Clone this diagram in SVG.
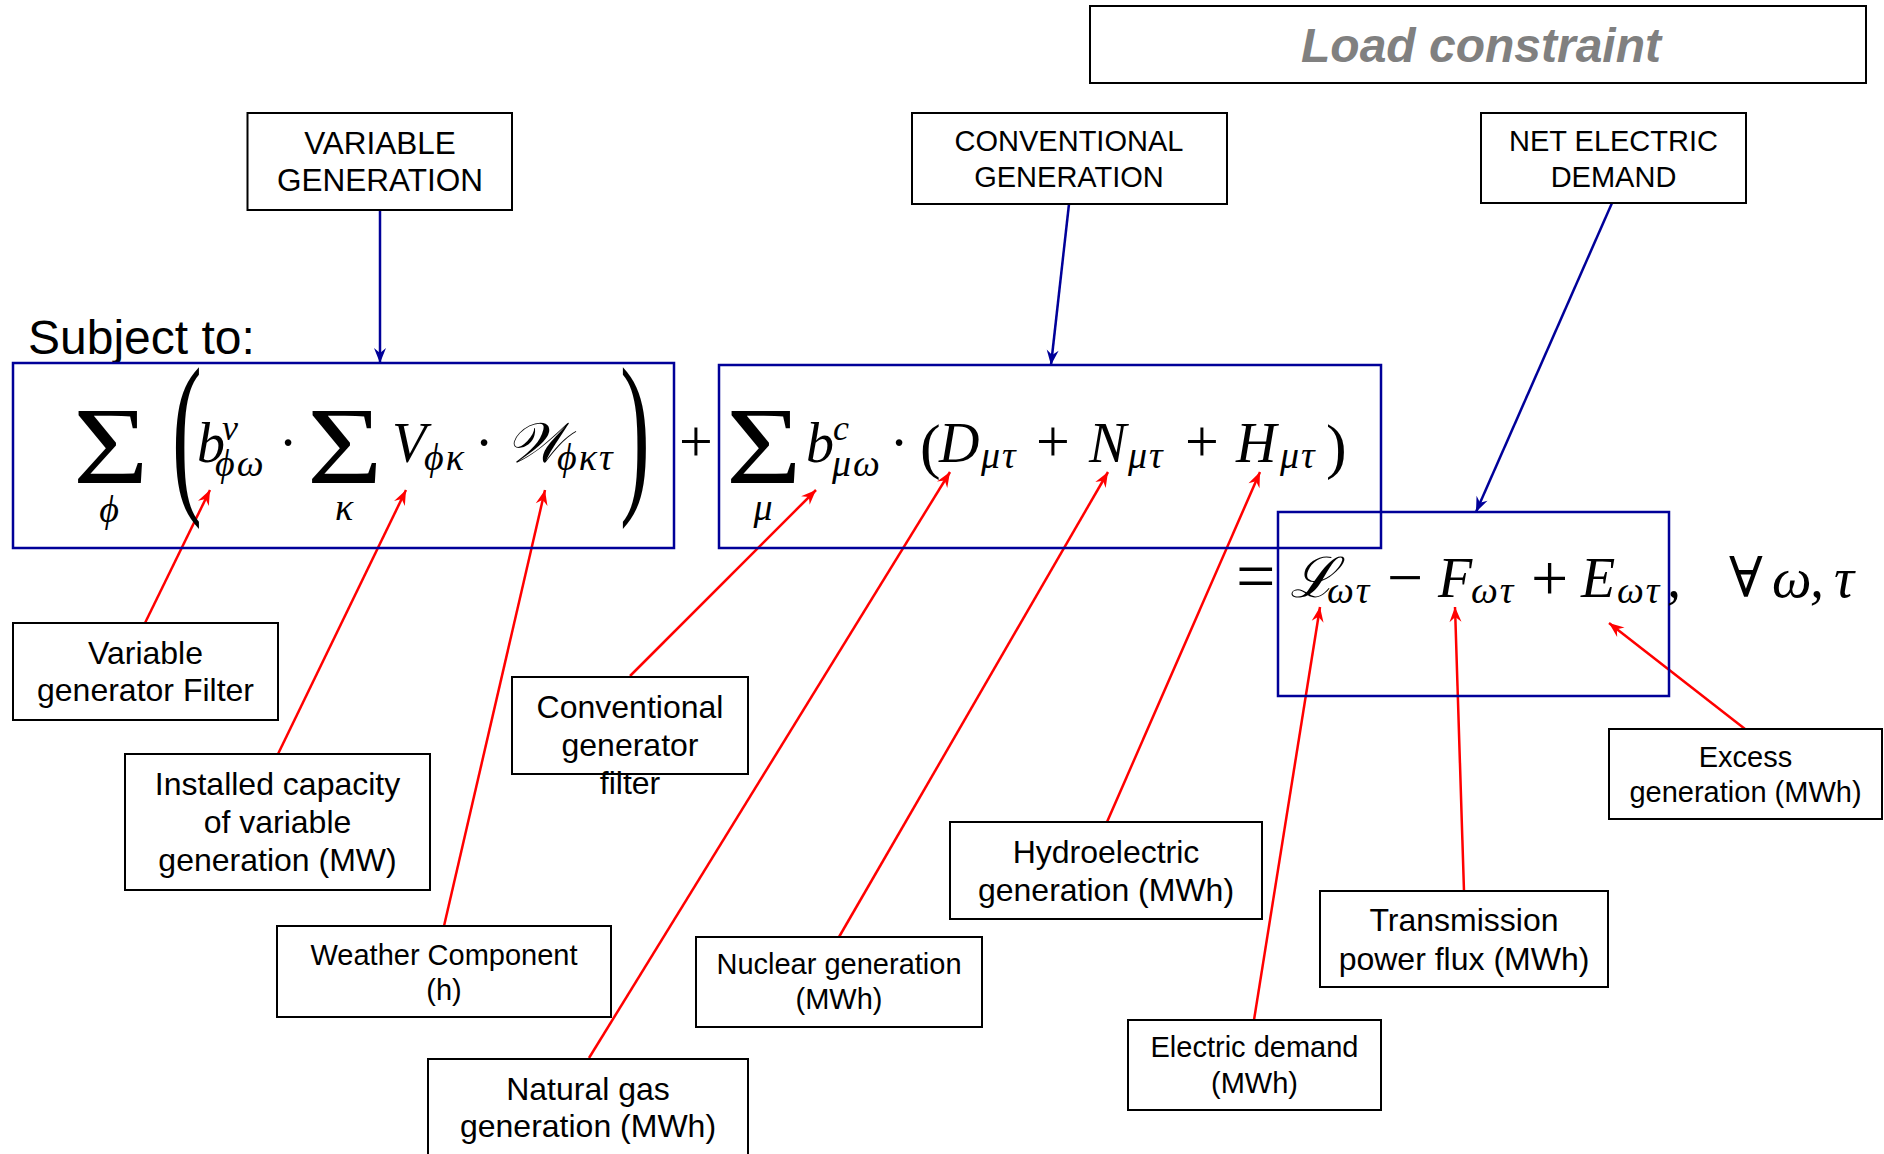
<svg xmlns="http://www.w3.org/2000/svg" width="1884" height="1154" viewBox="0 0 1884 1154">
<defs>
<style>
.lbl{fill:none;stroke:#000;stroke-width:2}
.bb{fill:none;stroke:#000099;stroke-width:2.5}
.t{font-family:"Liberation Sans",Arial,sans-serif;fill:#000;text-anchor:middle}
.m{font-family:"Liberation Serif","DejaVu Serif",serif;font-style:italic;font-size:56px;fill:#000}
.r{font-family:"Liberation Serif","DejaVu Serif",serif;font-style:normal;font-size:56px;fill:#000}
.s{font-family:"Liberation Serif","DejaVu Serif",serif;font-style:italic;font-size:38px;letter-spacing:2px;fill:#000}
.sum{font-family:"Liberation Serif","DejaVu Serif",serif;font-size:110px;fill:#000}
.red{stroke:#ff0000;stroke-width:2.5;fill:none;marker-end:url(#ar)}
.blue{stroke:#000099;stroke-width:2.5;fill:none;marker-end:url(#ab)}
</style>
<marker id="ar" viewBox="-16 -8 18 16" refX="0" refY="0" markerWidth="18" markerHeight="16" markerUnits="userSpaceOnUse" orient="auto"><path d="M0,0 L-15,-6 L-10,0 L-15,6 Z" fill="#ff0000"/></marker>
<marker id="ab" viewBox="-16 -8 18 16" refX="0" refY="0" markerWidth="18" markerHeight="16" markerUnits="userSpaceOnUse" orient="auto"><path d="M0,0 L-15,-6 L-10,0 L-15,6 Z" fill="#000099"/></marker>
</defs>
<rect width="1884" height="1154" fill="#fff"/>

<g id="title">
<rect class="lbl" x="1090" y="6" width="776" height="77"/>
<text x="1481" y="62" style="font-family:'Liberation Sans',Arial,sans-serif;font-weight:bold;font-style:italic;font-size:48px;fill:#808080;text-anchor:middle">Load constraint</text>
</g>
<g id="subject">
<text x="28" y="354" style="font-family:'Liberation Sans',Arial,sans-serif;font-size:48px;fill:#000">Subject to:</text>
</g>

<g id="connectors">
<line class="blue" x1="380" y1="210" x2="380" y2="363"/>
<line class="blue" x1="1069" y1="204" x2="1051" y2="365"/>
<line class="blue" x1="1612" y1="203" x2="1476" y2="512"/>
<line class="red" x1="145" y1="623" x2="210" y2="490"/>
<line class="red" x1="278" y1="754" x2="406" y2="490"/>
<line class="red" x1="444" y1="926" x2="545" y2="490"/>
<line class="red" x1="630" y1="676" x2="816" y2="490"/>
<line class="red" x1="589" y1="1058" x2="950" y2="472"/>
<line class="red" x1="839" y1="937" x2="1108" y2="472"/>
<line class="red" x1="1107" y1="822" x2="1260" y2="472"/>
<line class="red" x1="1254" y1="1020" x2="1320" y2="607"/>
<line class="red" x1="1464" y1="891" x2="1455" y2="607"/>
<line class="red" x1="1745" y1="729" x2="1609" y2="623"/>
</g>

<g id="eq-variable">
<rect class="bb" x="13" y="363" width="661" height="185"/>
<text class="sum" transform="translate(73,483) scale(1.18,1)">Σ</text>
<text class="s" x="110" y="522" text-anchor="middle">ϕ</text>
<text class="r" transform="translate(172,491) scale(0.5,1)" style="font-size:179px">(</text>
<text class="m" x="197" y="462">b</text>
<text class="s" x="222" y="440" style="font-size:36px">v</text>
<text class="s" x="215" y="476">ϕω</text>
<text class="r" x="288" y="462" text-anchor="middle">·</text>
<text class="sum" transform="translate(307,483) scale(1.18,1)">Σ</text>
<text class="s" x="345" y="520" text-anchor="middle">κ</text>
<text class="m" x="392" y="462">V</text>
<text class="s" x="424" y="470">ϕκ</text>
<text class="r" x="484" y="462" text-anchor="middle">·</text>
<text class="m" x="506" y="462">𝒲</text>
<text class="s" x="557" y="470">ϕκτ</text>
<text class="r" transform="translate(620,491) scale(0.5,1)" style="font-size:179px">)</text>
<text class="r" x="679" y="461" style="font-size:60px">+</text>
</g>

<g id="eq-conventional">
<rect class="bb" x="719" y="365" width="662" height="183"/>
<text class="sum" transform="translate(726,483) scale(1.18,1)">Σ</text>
<text class="s" x="764" y="520" text-anchor="middle">μ</text>
<text class="m" x="806" y="462">b</text>
<text class="s" x="833" y="440" style="font-size:36px">c</text>
<text class="s" x="832" y="476">μω</text>
<text class="r" x="899" y="462" text-anchor="middle">·</text>
<text class="r" x="920" y="467" style="font-size:62px">(</text>
<text class="m" x="939" y="462">D</text>
<text class="s" x="981" y="468">μτ</text>
<text class="r" x="1036" y="461" style="font-size:60px">+</text>
<text class="m" x="1089" y="462">N</text>
<text class="s" x="1128" y="468">μτ</text>
<text class="r" x="1185" y="461" style="font-size:60px">+</text>
<text class="m" x="1236" y="462">H</text>
<text class="s" x="1280" y="468">μτ</text>
<text class="r" x="1326" y="467" style="font-size:62px">)</text>
</g>

<g id="eq-demand">
<rect class="bb" x="1278" y="512" width="391" height="184"/>
<text class="r" x="1236" y="600" style="font-size:70px">=</text>
<text class="m" x="1290" y="597">ℒ</text>
<text class="s" x="1327" y="603">ωτ</text>
<text class="r" x="1387" y="599" style="font-size:64px">−</text>
<text class="m" x="1438" y="597">F</text>
<text class="s" x="1471" y="603">ωτ</text>
<text class="r" x="1531" y="600" style="font-size:66px">+</text>
<text class="m" x="1581" y="597">E</text>
<text class="s" x="1617" y="603">ωτ</text>
<text class="m" x="1667" y="597">,</text>
<text class="r" x="1729" y="597">∀</text>
<text class="m" x="1772" y="597">ω</text>
<text class="m" x="1810" y="597">,</text>
<text class="m" x="1834" y="597">τ</text>
</g>

<g id="n-variable-generation">
<rect class="lbl" x="247.5" y="113" width="264.5" height="97"/>
<text class="t" style="font-size:31.5px" x="380" y="154">VARIABLE</text>
<text class="t" style="font-size:31.5px" x="380" y="191">GENERATION</text>
</g>
<g id="n-conventional-generation">
<rect class="lbl" x="912" y="113" width="315" height="91"/>
<text class="t" style="font-size:29px" x="1069" y="151">CONVENTIONAL</text>
<text class="t" style="font-size:29px" x="1069" y="187">GENERATION</text>
</g>
<g id="n-net-demand">
<rect class="lbl" x="1481" y="113" width="265" height="90"/>
<text class="t" style="font-size:29px" x="1613.5" y="151">NET ELECTRIC</text>
<text class="t" style="font-size:29px" x="1613.5" y="187">DEMAND</text>
</g>
<g id="n-var-filter">
<rect class="lbl" x="13" y="623" width="265" height="97"/>
<text class="t" style="font-size:32px" x="145.5" y="664">Variable</text>
<text class="t" style="font-size:32px" x="145.5" y="701">generator Filter</text>
</g>
<g id="n-installed">
<rect class="lbl" x="125" y="754" width="305" height="136"/>
<text class="t" style="font-size:32px" x="277.5" y="795">Installed capacity</text>
<text class="t" style="font-size:32px" x="277.5" y="833">of variable</text>
<text class="t" style="font-size:32px" x="277.5" y="871">generation (MW)</text>
</g>
<g id="n-weather">
<rect class="lbl" x="277" y="926" width="334" height="91"/>
<text class="t" style="font-size:29px" x="444" y="965">Weather Component</text>
<text class="t" style="font-size:29px" x="444" y="1000">(h)</text>
</g>
<g id="n-conv-filter">
<rect class="lbl" x="512" y="677" width="236" height="97"/>
<text class="t" style="font-size:32px" x="630" y="718">Conventional</text>
<text class="t" style="font-size:32px" x="630" y="756">generator</text>
<text class="t" style="font-size:32px" x="630" y="794">filter</text>
</g>
<g id="n-natural-gas">
<rect class="lbl" x="428" y="1059" width="320" height="120"/>
<text class="t" style="font-size:32px" x="588" y="1100">Natural gas</text>
<text class="t" style="font-size:32px" x="588" y="1137">generation (MWh)</text>
</g>
<g id="n-nuclear">
<rect class="lbl" x="696" y="937" width="286" height="90"/>
<text class="t" style="font-size:29px" x="839" y="974">Nuclear generation</text>
<text class="t" style="font-size:29px" x="839" y="1009">(MWh)</text>
</g>
<g id="n-hydro">
<rect class="lbl" x="950" y="822" width="312" height="97"/>
<text class="t" style="font-size:32px" x="1106" y="863">Hydroelectric</text>
<text class="t" style="font-size:32px" x="1106" y="901">generation (MWh)</text>
</g>
<g id="n-electric-demand">
<rect class="lbl" x="1128" y="1020" width="253" height="90"/>
<text class="t" style="font-size:29px" x="1254.5" y="1057">Electric demand</text>
<text class="t" style="font-size:29px" x="1254.5" y="1093">(MWh)</text>
</g>
<g id="n-transmission">
<rect class="lbl" x="1320" y="891" width="288" height="96"/>
<text class="t" style="font-size:32px" x="1464" y="931">Transmission</text>
<text class="t" style="font-size:32px" x="1464" y="970">power flux (MWh)</text>
</g>
<g id="n-excess">
<rect class="lbl" x="1609" y="729" width="273" height="90"/>
<text class="t" style="font-size:29px" x="1745.5" y="767">Excess</text>
<text class="t" style="font-size:29px" x="1745.5" y="802">generation (MWh)</text>
</g>
</svg>
